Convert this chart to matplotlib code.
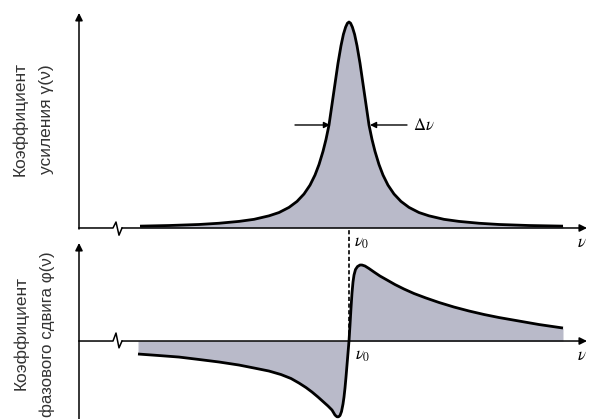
import matplotlib.pyplot as plt

plt.rcParams['mathtext.fontset'] = 'stix'

# Gain line profile (detuning in units of the half-width, gain normalised to the peak)
nu_gain = [-10.45, -9.0, -7.5, -6.5, -5.5, -4.75, -4.0, -3.5, -3.0, -2.6, -2.25, -1.95,
           -1.7, -1.5, -1.3, -1.15, -1.0, -0.85, -0.7, -0.55, -0.4, -0.28, -0.17, -0.08,
           0.0, 0.08, 0.17, 0.28, 0.4, 0.55, 0.7, 0.85, 1.0, 1.15, 1.3, 1.5, 1.7, 1.95,
           2.25, 2.6, 3.0, 3.5, 4.0, 4.75, 5.5, 6.5, 7.5, 9.0, 10.7]
gain = [0.009, 0.012, 0.017, 0.023, 0.032, 0.042, 0.059, 0.075, 0.1, 0.129, 0.165, 0.208,
        0.257, 0.308, 0.372, 0.43, 0.5, 0.6, 0.7, 0.8, 0.885, 0.94, 0.975, 0.994,
        1.0, 0.994, 0.975, 0.94, 0.885, 0.8, 0.7, 0.6, 0.5, 0.43, 0.372, 0.308, 0.257,
        0.208, 0.165, 0.129, 0.1, 0.075, 0.059, 0.042, 0.032, 0.023, 0.017, 0.012, 0.009]

# Phase shift (dispersion) profile
nu_phase = [-10.55, -9.5, -8.5, -7.5, -6.5, -5.5, -4.75, -4.0, -3.4, -2.9, -2.5, -2.15,
            -1.85, -1.55, -1.3, -1.05, -0.85, -0.7, -0.6, -0.525, -0.45, -0.375, -0.3,
            -0.25, -0.2, -0.15, -0.1, -0.05, 0.0, 0.05, 0.1, 0.15, 0.2, 0.25, 0.325,
            0.425, 0.55, 0.65, 0.8, 1.0, 1.25, 1.55, 1.9, 2.3, 2.75, 3.25, 3.85, 4.5,
            5.25, 6.0, 6.75, 7.5, 8.5, 9.5, 10.7]
phase = [-0.171, -0.191, -0.211, -0.243, -0.276, -0.316, -0.355, -0.395, -0.441, -0.493,
         -0.553, -0.612, -0.671, -0.737, -0.796, -0.855, -0.908, -0.974, -0.997, -0.997,
         -0.98, -0.928, -0.829, -0.737, -0.618, -0.474, -0.316, -0.158, 0.0, 0.211,
         0.434, 0.632, 0.776, 0.868, 0.941, 0.98, 1.0, 1.0, 0.987, 0.954, 0.908, 0.855,
         0.803, 0.743, 0.684, 0.625, 0.566, 0.507, 0.447, 0.395, 0.349, 0.309, 0.263,
         0.217, 0.171]

fill_col = '#b9bac9'
x_axis = -13.5      # position of the vertical axes
x_tip = 11.9        # tip of the frequency axis arrows
x_lim = (-17.45, 12.0)

fig = plt.figure(figsize=(5.89, 4.19), dpi=100)
ax1 = fig.add_axes([0, 0.4368, 1, 0.5632])
ax2 = fig.add_axes([0, 0, 1, 0.4368])
ax1.set_xlim(*x_lim)
ax1.set_ylim(-0.0388, 1.1068)
ax2.set_xlim(*x_lim)
ax2.set_ylim(-1.026, 1.382)
for ax in (ax1, ax2):
    ax.axis('off')

arrow = dict(arrowstyle='-|>', color='black', lw=1.1, mutation_scale=11,
             shrinkA=0, shrinkB=0)
small_arrow = dict(arrowstyle='-|>', color='black', lw=1.0, mutation_scale=9,
                   shrinkA=0, shrinkB=0)


def draw_axes(ax, y_bottom, y_top, up, down):
    # vertical axis with arrow
    ax.annotate('', xy=(x_axis, y_top), xytext=(x_axis, y_bottom),
                arrowprops=arrow, annotation_clip=False)
    # horizontal axis with a break mark
    bx = [x_axis, -11.8, -11.65, -11.5, -11.35]
    by = [0, 0, up, -down, 0]
    ax.plot(bx, by, color='black', lw=1.1, solid_joinstyle='round')
    ax.annotate('', xy=(x_tip, 0), xytext=(-11.35, 0), arrowprops=arrow,
                annotation_clip=False)


# top panel: gain
ax1.fill_between(nu_gain, gain, 0, color=fill_col, lw=0)
ax1.plot(nu_gain, gain, color='black', lw=2.0, solid_capstyle='butt',
         solid_joinstyle='round')
draw_axes(ax1, -0.005, 1.044, 0.029, 0.035)

# half-width arrows
half = 0.5
ax1.annotate('', xy=(-0.95, half), xytext=(-2.7, half), arrowprops=small_arrow)
ax1.annotate('', xy=(1.05, half), xytext=(2.9, half), arrowprops=small_arrow)
ax1.text(3.2, half, r'$\Delta\nu$', fontsize=12, ha='left', va='center')
ax1.text(0.25, -0.025, r'$\nu_0$', fontsize=12, ha='left', va='top')
ax1.text(11.4, -0.025, r'$\nu$', fontsize=12, ha='left', va='top')

# bottom panel: phase shift
ax2.fill_between(nu_phase, phase, 0, color=fill_col, lw=0)
ax2.plot(nu_phase, phase, color='black', lw=2.0, solid_capstyle='butt',
         solid_joinstyle='round')
draw_axes(ax2, -1.1, 1.29, 0.105, 0.09)
ax2.plot([0, 0], [0, 1.487], color='black', lw=1.2, ls=(0, (2.5, 1.5)),
         clip_on=False)
ax2.text(0.3, -0.06, r'$\nu_0$', fontsize=12, ha='left', va='top')
ax2.text(11.4, -0.06, r'$\nu$', fontsize=12, ha='left', va='top')

# axis titles
lab = dict(rotation=90, ha='center', va='center', fontsize=12.5,
           family='Liberation Sans', color='#333333')
fig.text(20 / 589, 1 - 119 / 419, 'Коэффициент', **lab)
fig.text(47 / 589, 1 - 119 / 419, 'усиления γ(ν)', **lab)
fig.text(21 / 589, 1 - 333 / 419, 'Коэффициент', **lab)
fig.text(47 / 589, 1 - 334 / 419, 'фазового сдвига φ(ν)', fontsize=12.2,
         **{k: v for k, v in lab.items() if k != 'fontsize'})

fig.savefig('out.png', dpi=100)
